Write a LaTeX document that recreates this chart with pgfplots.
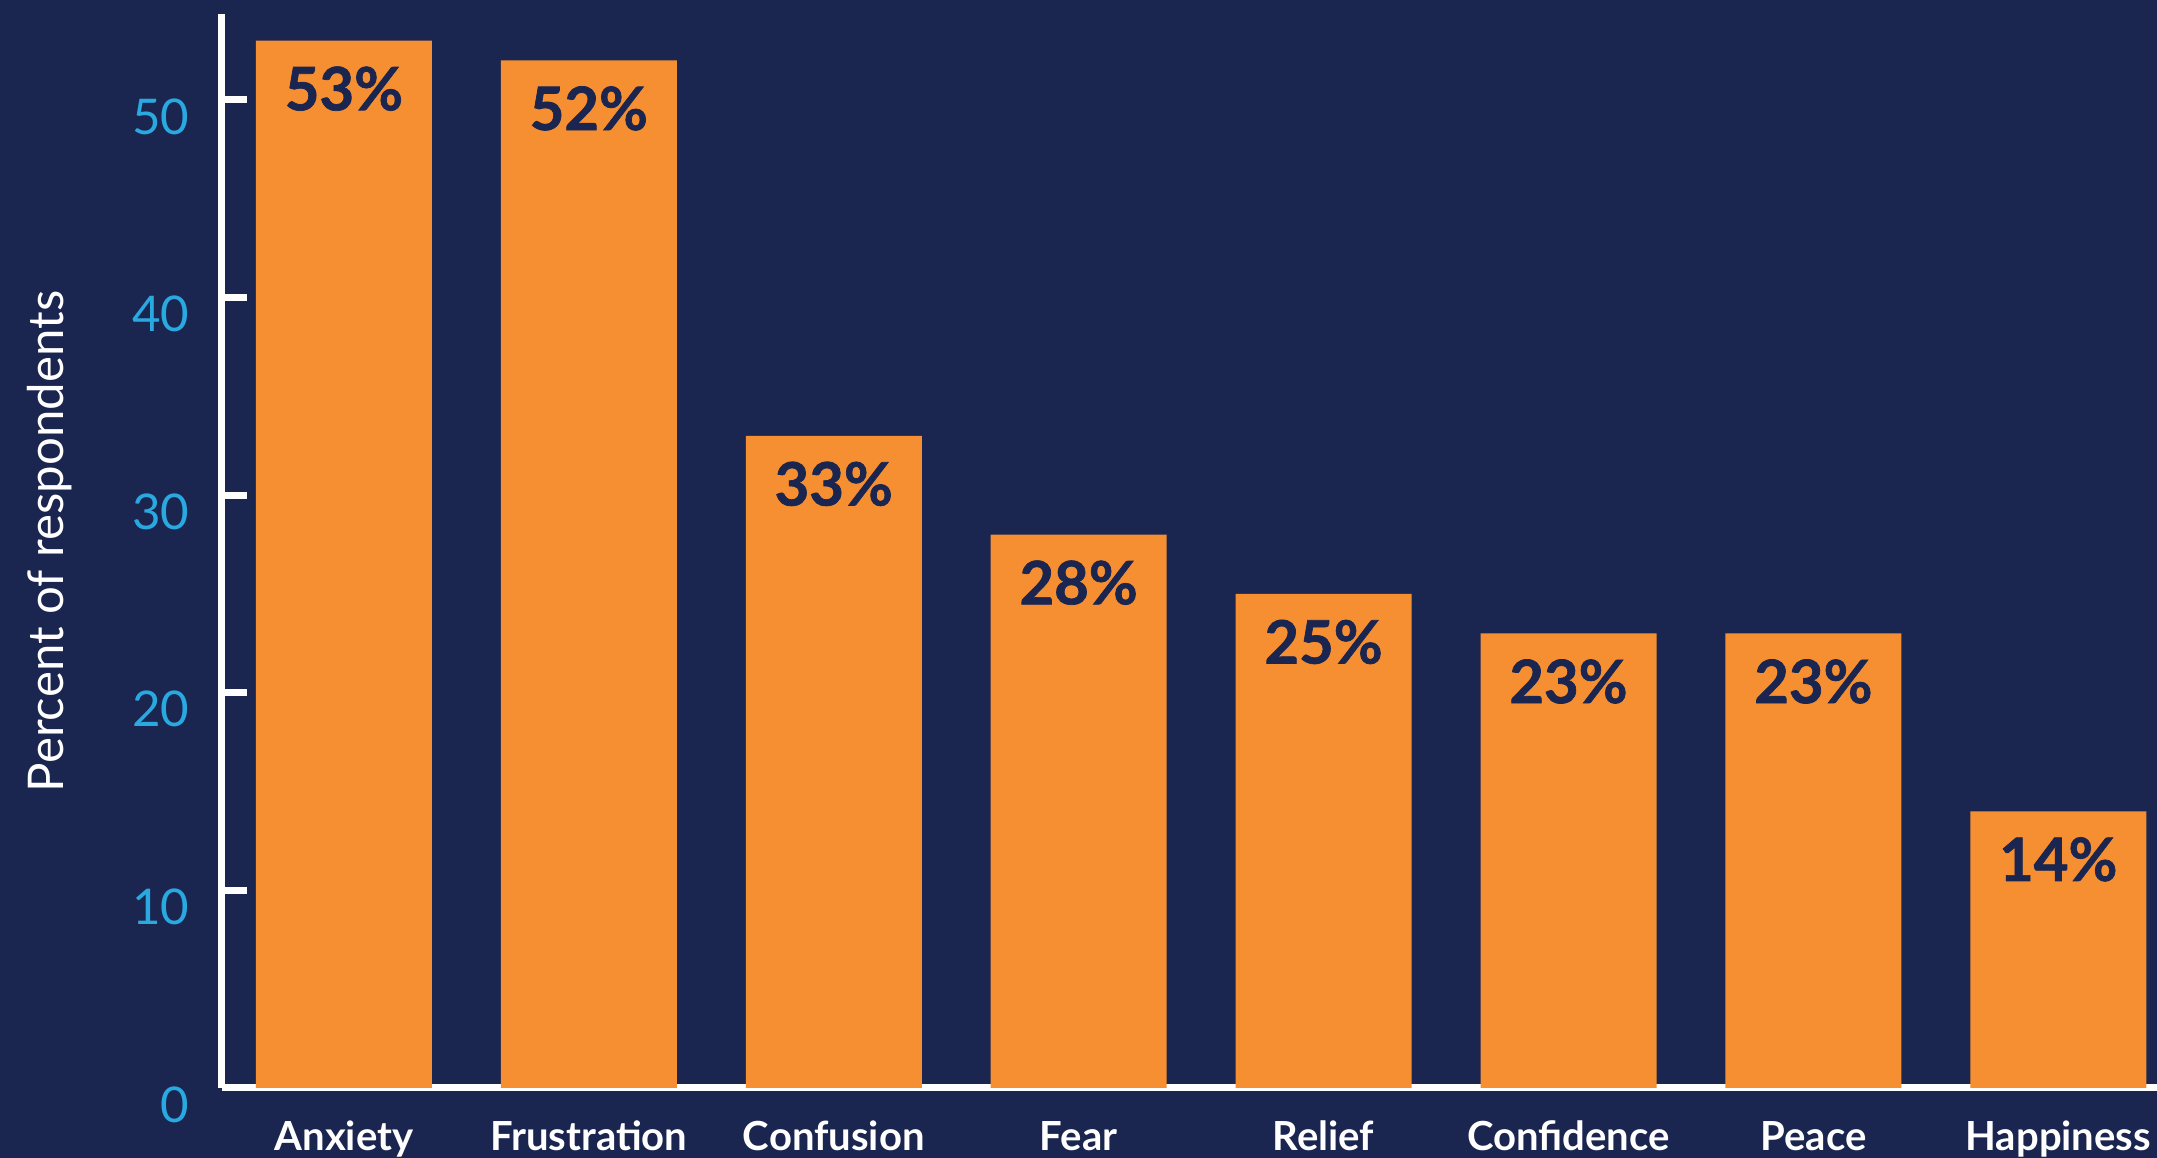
\documentclass[border=0pt]{standalone}
\usepackage{pgfplots}
\pgfplotsset{compat=1.18}
\usepackage{fontspec}
\setmainfont{Lato}
\definecolor{navy}{HTML}{1A2550}
\definecolor{barorange}{HTML}{F68F32}
\definecolor{tickblue}{HTML}{29A9E0}
\begin{document}
\begin{tikzpicture}
\fill[navy] (0,0) rectangle (215.7mm,115.8mm);
\begin{axis}[
    at={(22.15mm,7.0mm)}, anchor=south west,
    scale only axis, width=193.55mm, height=107.4mm,
    xmin=-0.5, xmax=7.403, ymin=0, ymax=54.35,
    axis x line=bottom, axis y line=left,
    axis line style={-, white, line width=0.7mm},
    ybar, bar width=17.6mm,
    xtick={0,...,7},
    xticklabels={Anxiety,Frustration,Confusion,Fear,Relief,Confidence,Peace,Happiness},
    ytick={0,10,20,30,40,50},
    x tick style={draw=none},
    y tick style={white, line width=0.7mm},
    tick align=inside, major tick length=2.5mm,
    /pgf/number format/assume math mode=true,
    yticklabel style={text=tickblue, font=\fontsize{14}{16}\selectfont,
        anchor=east, inner sep=0pt, xshift=-3.15mm, yshift=-1.65mm},
    xticklabel style={text=white, font=\bfseries\fontsize{11.4}{13}\selectfont,
        anchor=base, inner sep=0pt, yshift=-6.3mm},
    nodes near coords={\pgfmathprintnumber{\pgfplotspointmeta}\%},
    every node near coord/.append style={anchor=center, yshift=-4.8mm,
        text=navy, font=\bfseries\fontsize{17}{19}\selectfont\addfontfeatures{FakeBold=1.2}},
]
\addplot[fill=barorange, draw=none] coordinates {
    (0,53) (1,52) (2,33) (3,28) (4,25) (5,23) (6,23) (7,14)
};
\end{axis}
\node[rotate=90, anchor=base, text=white, font=\fontsize{14}{16}\selectfont]
    at (6.3mm,61.65mm) {Percent of respondents};
\pgfresetboundingbox
\useasboundingbox (0,0) rectangle (215.7mm,115.8mm);
\end{tikzpicture}
\end{document}
